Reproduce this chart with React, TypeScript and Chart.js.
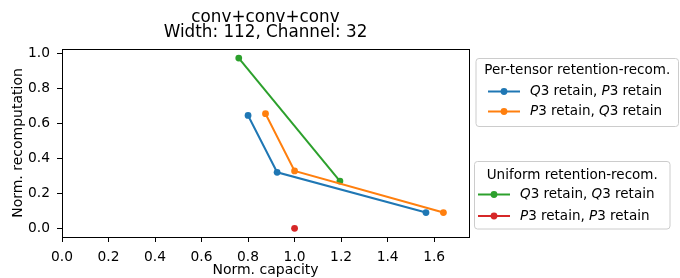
import React, { useEffect, useRef } from "react";
import { Chart, registerables } from "chart.js";

Chart.register(...registerables);

const titleLines = ["conv+conv+conv", "Width: 112, Channel: 32"];
const xLabel = "Norm. capacity";
const yLabel = "Norm. recomputation";
const xTicks = [0, 0.2, 0.4, 0.6, 0.8, 1.0, 1.2, 1.4, 1.6];
const yTicks = [0, 0.2, 0.4, 0.6, 0.8, 1.0];

// Per-tensor series
const q3p3X = [0.80, 0.925, 1.565];
const q3p3Y = [0.645, 0.32, 0.09];
const p3q3X = [0.875, 1.0, 1.64];
const p3q3Y = [0.655, 0.328, 0.09];
// Uniform series
const q3q3X = [0.76, 1.195];
const q3q3Y = [0.973, 0.27];
const p3p3X = [1.0];
const p3p3Y = [0.0];

const legend1Title = "Per-tensor retention-recom.";
const legend2Title = "Uniform retention-recom.";
const seriesLabels = [
  [{ t: "Q", i: true }, { t: "3 retain, " }, { t: "P", i: true }, { t: "3 retain" }],
  [{ t: "P", i: true }, { t: "3 retain, " }, { t: "Q", i: true }, { t: "3 retain" }],
  [{ t: "Q", i: true }, { t: "3 retain, " }, { t: "Q", i: true }, { t: "3 retain" }],
  [{ t: "P", i: true }, { t: "3 retain, " }, { t: "P", i: true }, { t: "3 retain" }],
];
const colors = ["#1f77b4", "#ff7f0e", "#2ca02c", "#d62728"];

const FONT = '"DejaVu Sans"';

function pts(xs: number[], ys: number[]) {
  return xs.map((x, i) => ({ x, y: ys[i] }));
}

function drawRich(ctx: CanvasRenderingContext2D, parts: { t: string; i?: boolean }[], x: number, y: number, size: number) {
  let cx = x;
  for (const p of parts) {
    ctx.font = `${p.i ? "italic " : ""}${size}px ${FONT}`;
    ctx.fillText(p.t, cx, y);
    cx += ctx.measureText(p.t).width;
  }
}

function roundRect(ctx: CanvasRenderingContext2D, x: number, y: number, w: number, h: number, r: number) {
  ctx.beginPath();
  ctx.moveTo(x + r, y);
  ctx.lineTo(x + w - r, y);
  ctx.arcTo(x + w, y, x + w, y + r, r);
  ctx.lineTo(x + w, y + h - r);
  ctx.arcTo(x + w, y + h, x + w - r, y + h, r);
  ctx.lineTo(x + r, y + h);
  ctx.arcTo(x, y + h, x, y + h - r, r);
  ctx.lineTo(x, y + r);
  ctx.arcTo(x, y, x + r, y, r);
  ctx.closePath();
}

const overlayPlugin = {
  id: "overlay",
  afterDraw(chart: any) {
    const ctx: CanvasRenderingContext2D = chart.ctx;
    const a = chart.chartArea;
    ctx.save();
    // frame
    ctx.strokeStyle = "#000";
    ctx.lineWidth = 1;
    ctx.strokeRect(Math.round(a.left) + 0.5, Math.round(a.top) + 0.5, Math.round(a.right - a.left), Math.round(a.bottom - a.top));
    // title
    ctx.fillStyle = "#000";
    ctx.textAlign = "center";
    ctx.textBaseline = "alphabetic";
    ctx.font = `16.8px ${FONT}`;
    const cx = (a.left + a.right) / 2;
    ctx.fillText(titleLines[0], cx, 21.7);
    ctx.fillText(titleLines[1], cx, 36.7);

    const boxes = [
      { x: 476, y: 58.5, w: 202.5, h: 68, title: legend1Title, titleY: 70.5, items: [0, 1], ys: [91.5, 111.5], lx0: 488, lx1: 520, tx: 530 },
      { x: 474.5, y: 161.5, w: 195.5, h: 67.5, title: legend2Title, titleY: 175, items: [2, 3], ys: [194.5, 216], lx0: 478, lx1: 510, tx: 520 },
    ];
    for (const b of boxes) {
      roundRect(ctx, b.x, b.y, b.w, b.h, 3);
      ctx.fillStyle = "rgba(255,255,255,0.8)";
      ctx.fill();
      ctx.strokeStyle = "#cccccc";
      ctx.lineWidth = 1;
      ctx.stroke();
      ctx.fillStyle = "#000";
      ctx.textAlign = "center";
      ctx.textBaseline = "middle";
      ctx.font = `13.5px ${FONT}`;
      ctx.fillText(b.title, b.x + b.w / 2, b.titleY);
      b.items.forEach((si, k) => {
        const y = b.ys[k];
        ctx.strokeStyle = colors[si];
        ctx.lineWidth = 2;
        ctx.beginPath();
        ctx.moveTo(b.lx0, y);
        ctx.lineTo(b.lx1, y);
        ctx.stroke();
        ctx.fillStyle = colors[si];
        ctx.beginPath();
        ctx.arc((b.lx0 + b.lx1) / 2, y, 3.4, 0, Math.PI * 2);
        ctx.fill();
        ctx.fillStyle = "#000";
        ctx.textAlign = "left";
        drawRich(ctx, seriesLabels[si], b.tx, y, 13.5);
      });
    }
    ctx.restore();
  },
};

export default function App() {
  const ref = useRef<HTMLCanvasElement>(null);
  useEffect(() => {
    if (!ref.current) return;
    const mk = (xs: number[], ys: number[], c: string, line: boolean) => ({
      data: pts(xs, ys),
      borderColor: c,
      backgroundColor: c,
      showLine: line,
      borderWidth: 2,
      pointRadius: 3.4,
      pointBorderWidth: 0,
      pointHoverRadius: 3.4,
      tension: 0,
    });
    const chart = new Chart(ref.current, {
      type: "scatter",
      data: {
        datasets: [
          mk(q3p3X, q3p3Y, colors[0], true),
          mk(p3q3X, p3q3Y, colors[1], true),
          mk(q3q3X, q3q3Y, colors[2], true),
          mk(p3p3X, p3p3Y, colors[3], false),
        ],
      },
      options: {
        animation: false,
        responsive: true,
        maintainAspectRatio: false,
        events: [],
        layout: { padding: { left: 0, right: 211, top: 49, bottom: 0 } },
        plugins: { legend: { display: false }, tooltip: { enabled: false }, title: { display: false } },
        scales: {
          x: {
            type: "linear",
            min: 0,
            max: 1.75,
            afterBuildTicks: (s: any) => { s.ticks = xTicks.map((v) => ({ value: v })); },
            afterFit: (s: any) => { s.height = 41; },
            ticks: { color: "#000", font: { family: FONT, size: 13.8 }, padding: 7, maxRotation: 0, autoSkip: false, callback: (v: any) => Number(v).toFixed(1) },
            grid: { drawOnChartArea: false, drawTicks: true, tickLength: 5, color: "#000", lineWidth: 1 },
            border: { display: false },
            title: { display: true, text: xLabel, color: "#000", font: { family: FONT, size: 14 }, padding: { top: 0, bottom: -1 } },
          },
          y: {
            type: "linear",
            min: -0.0497,
            max: 1.0246,
            afterBuildTicks: (s: any) => { s.ticks = yTicks.map((v) => ({ value: v })); },
            afterFit: (s: any) => { s.width = 62; },
            ticks: { color: "#000", font: { family: FONT, size: 13.8 }, padding: 7, autoSkip: false, callback: (v: any) => Number(v).toFixed(1) },
            grid: { drawOnChartArea: false, drawTicks: true, tickLength: 5, color: "#000", lineWidth: 1 },
            border: { display: false },
            title: { display: true, text: yLabel, color: "#000", font: { family: FONT, size: 14 }, padding: { top: 10, bottom: 0 } },
          },
        },
      },
      plugins: [overlayPlugin],
    } as any);
    return () => chart.destroy();
  }, []);
  return (
    <div style={{ position: "absolute", left: 0, top: 0, width: 680, height: 278, background: "#fff" }}>
      <canvas ref={ref} />
    </div>
  );
}
